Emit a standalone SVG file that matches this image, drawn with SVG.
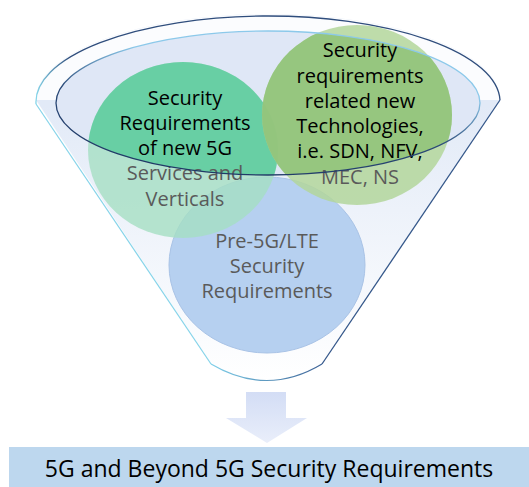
<svg xmlns="http://www.w3.org/2000/svg" width="529" height="487" viewBox="0 0 529 487">
<defs>
<style>
.t{font-family:"Open Sans","Noto Sans","Liberation Sans",sans-serif;font-size:20px;text-anchor:middle}
.k{fill:#000}
.g{fill:#5a5a5a}
</style>
<linearGradient id="body" x1="0" y1="0" x2="0" y2="1">
<stop offset="0.25" stop-color="#e2eaf7"/>
<stop offset="1" stop-color="#ffffff"/>
</linearGradient>
<linearGradient id="rimS" gradientUnits="userSpaceOnUse" x1="36" y1="0" x2="70" y2="0">
<stop offset="0" stop-color="#86d6ea"/>
<stop offset="1" stop-color="#2f4d7c"/>
</linearGradient>
<linearGradient id="botS" gradientUnits="userSpaceOnUse" x1="210" y1="0" x2="325" y2="0">
<stop offset="0" stop-color="#7fd0ea"/>
<stop offset="1" stop-color="#3b5f94"/>
</linearGradient>
<linearGradient id="innS" x1="0.75" y1="0" x2="0.3" y2="1">
<stop offset="0.3" stop-color="#8cc9ea"/>
<stop offset="0.6" stop-color="#2b4a78"/>
<stop offset="1" stop-color="#1f3864"/>
</linearGradient>
<linearGradient id="arr" x1="0" y1="0" x2="0" y2="1">
<stop offset="0" stop-color="#d3ddf5"/>
<stop offset="1" stop-color="#e9eefa"/>
</linearGradient>
<clipPath id="inner">
<ellipse cx="268" cy="103" rx="212" ry="72"/>
</clipPath>
</defs>

<g id="funnel">
<path d="M36,100 A232,86 0 0 1 500,100 L322,364 Q267,397 211,364 Z" fill="url(#body)"/>
<path d="M36,100 A232,86 0 0 1 500,100 Z" fill="#fbfcfe"/>
<ellipse cx="268" cy="103" rx="212" ry="72" fill="#dfe7f6"/>
<path d="M36,104 A232,86 0 0 1 500,100" fill="none" stroke="url(#rimS)" stroke-width="1.3"/>
<path d="M36,104 L211,364" fill="none" stroke="#86d4ea" stroke-width="1.2"/>
<path d="M500,100 L322,364" fill="none" stroke="#34578a" stroke-width="1.3"/>
<path d="M211,364 Q267,397 322,364" fill="none" stroke="url(#botS)" stroke-width="1.2"/>
</g>

<g id="pre5g">
<ellipse cx="267" cy="265" rx="98" ry="88" fill="#b6d0f0" stroke="#a9c3e6" stroke-width="1"/>
<text class="t g" x="267" y="248">Pre-5G/LTE</text>
<text class="t g" x="267" y="273">Security</text>
<text class="t g" x="267" y="298">Requirements</text>
</g>

<g id="services5g">
<ellipse cx="183" cy="150" rx="95" ry="88" fill="#a5dfc3" fill-opacity="0.8"/>
<ellipse cx="183" cy="150" rx="95" ry="88" fill="#5ccb9c" fill-opacity="0.85" clip-path="url(#inner)"/>
<text class="t k" x="185" y="105">Security</text>
<text class="t k" x="185" y="130">Requirements</text>
<text class="t k" x="185" y="155">of new 5G</text>
<text class="t g" x="185" y="180">Services and</text>
<text class="t g" x="185" y="206">Verticals</text>
</g>

<g id="newtech">
<ellipse cx="357" cy="115" rx="95" ry="90" fill="#b3d69b" fill-opacity="0.85"/>
<ellipse cx="357" cy="115" rx="95" ry="90" fill="#8fc278" fill-opacity="0.85" clip-path="url(#inner)"/>
<text class="t k" x="360" y="57">Security</text>
<text class="t k" x="360" y="83">requirements</text>
<text class="t k" x="360" y="108">related new</text>
<text class="t k" x="360" y="133">Technologies,</text>
<text class="t k" x="360" y="158">i.e. SDN, NFV,</text>
<text class="t g" x="360" y="184">MEC, NS</text>
</g>

<g id="rim">
<ellipse cx="268" cy="103" rx="212" ry="72" fill="none" stroke="url(#innS)" stroke-width="1.3"/>
</g>

<g id="connectors">
<path d="M246,392 H286 V418 H307 L267,443 L226,418 H246 Z" fill="url(#arr)"/>
</g>

<g id="result">
<rect x="9" y="447" width="520" height="40" fill="#bdd7ee"/>
<text x="269" y="477" style="font-family:'Open Sans','Noto Sans','Liberation Sans',sans-serif;font-size:23px;text-anchor:middle;fill:#000">5G and Beyond 5G Security Requirements</text>
</g>
</svg>
